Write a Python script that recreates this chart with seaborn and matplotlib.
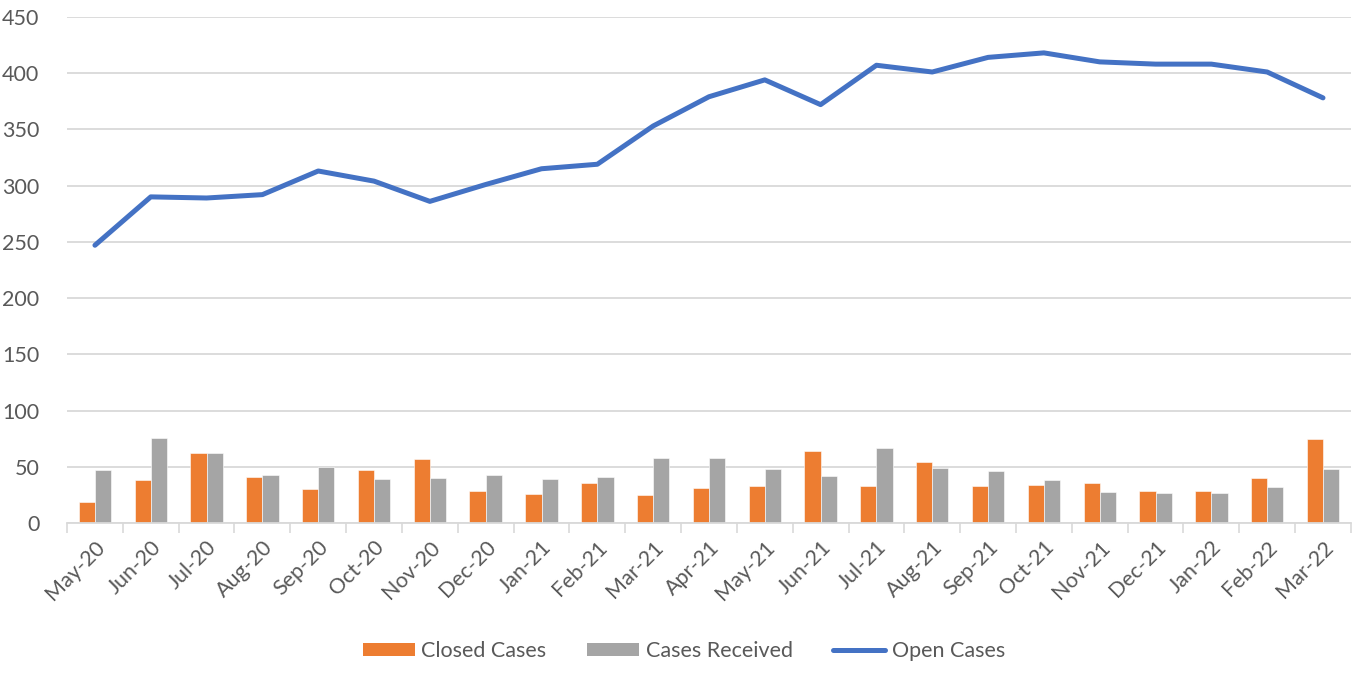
import numpy as np
import pandas as pd
import matplotlib
matplotlib.use("Agg")
import matplotlib.pyplot as plt
from matplotlib.patches import Patch
from matplotlib.lines import Line2D
import seaborn as sns

months = ["May-20", "Jun-20", "Jul-20", "Aug-20", "Sep-20", "Oct-20", "Nov-20", "Dec-20",
          "Jan-21", "Feb-21", "Mar-21", "Apr-21", "May-21", "Jun-21", "Jul-21", "Aug-21",
          "Sep-21", "Oct-21", "Nov-21", "Dec-21", "Jan-22", "Feb-22", "Mar-22"]
closed_cases = [19, 38, 62, 41, 30, 47, 57, 29, 26, 36, 25, 31, 33, 64, 33, 54,
                33, 34, 36, 29, 29, 40, 75]
cases_received = [47, 76, 62, 43, 50, 39, 40, 43, 39, 41, 58, 58, 48, 42, 67, 49,
                  46, 38, 28, 27, 27, 32, 48]
open_cases = [247, 290, 289, 292, 313, 304, 286, 301, 315, 319, 353, 379, 394, 372,
              407, 401, 414, 418, 410, 408, 408, 401, 378]
y_ticks = [0, 50, 100, 150, 200, 250, 300, 350, 400, 450]

ORANGE = "#ED7D31"
GRAY = "#A5A5A5"
BLUE = "#4472C4"
TEXT = "#595959"
GRID = "#D9D9D9"

sns.set_theme(style="white")
plt.rcParams["font.family"] = ["Lato", "DejaVu Sans"]

bars = pd.DataFrame({"Month": months, "Closed Cases": closed_cases,
                     "Cases Received": cases_received})
long = bars.melt(id_vars="Month", var_name="Series", value_name="Value")

fig = plt.figure(figsize=(13.68, 6.75), dpi=100)
ax = fig.add_axes([0.049, 0.225, 0.9385, 0.75])

sns.barplot(data=long, x="Month", y="Value", hue="Series", order=months,
            hue_order=["Closed Cases", "Cases Received"],
            palette=[ORANGE, GRAY], width=0.58, gap=0, saturation=1,
            edgecolor="white", linewidth=0.4, legend=False, ax=ax, zorder=2)
sns.lineplot(x=np.arange(len(months)), y=open_cases, color=BLUE, linewidth=3.6,
             ax=ax, zorder=3, solid_capstyle="round", solid_joinstyle="round")

n = len(months)
ax.set_xlim(-0.5, n - 0.5)
ax.set_ylim(0, 450)
ax.set_yticks(y_ticks)
ax.set_yticklabels([str(v) for v in y_ticks], fontsize=15.5, color=TEXT)
ax.tick_params(axis="y", length=0, pad=20)
ax.yaxis.grid(True, color=GRID, linewidth=1.3, zorder=0)
ax.set_axisbelow(True)

ax.set_xticks(np.arange(n))
ax.set_xticklabels(months, rotation=45, ha="right", rotation_mode="anchor",
                   fontsize=15.5, color=TEXT)
ax.tick_params(axis="x", which="major", length=0, pad=10)
ax.set_xticks(np.arange(n + 1) - 0.5, minor=True)
ax.tick_params(axis="x", which="minor", length=7, width=1.2, color=GRID, direction="out")
ax.tick_params(axis="x", which="minor", bottom=True)
ax.set_xlabel("")
ax.set_ylabel("")

for s in ["top", "right", "left"]:
    ax.spines[s].set_visible(False)
ax.spines["bottom"].set_color(GRID)
ax.spines["bottom"].set_linewidth(1.3)

handles = [Patch(facecolor=ORANGE, edgecolor="none"),
           Patch(facecolor=GRAY, edgecolor="none"),
           Line2D([0], [0], color=BLUE, linewidth=3.6, solid_capstyle="round")]
leg = fig.legend(handles, ["Closed Cases", "Cases Received", "Open Cases"],
                 loc="center", bbox_to_anchor=(0.5, 1 - 651 / 675), ncol=3,
                 frameon=False, fontsize=15.5, handlelength=2.4, handleheight=0.6,
                 handletextpad=0.3, columnspacing=1.9)
for t in leg.get_texts():
    t.set_color(TEXT)

fig.savefig("out.png", dpi=100)
